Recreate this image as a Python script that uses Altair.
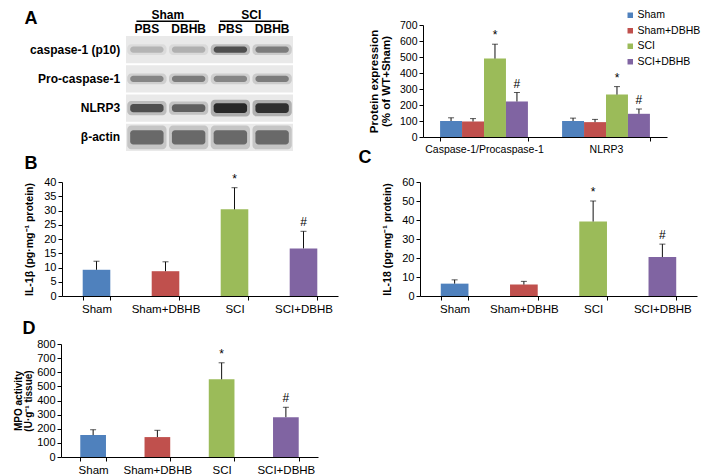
import altair as alt
import pandas as pd

FONT = "Liberation Sans"
W, H = 693, 467  # chart area (page minus 8px top/left margin)

# ---------------- data ----------------
groups = ["Sham", "Sham+DBHB", "SCI", "SCI+DBHB"]
group_colors = ["#4F81BD", "#C0504D", "#9BBB59", "#8064A2"]
sig_marks = ["", "", "*", "#"]

a_categories = ["Caspase-1/Procaspase-1", "NLRP3"]
a_casp_mean = [100, 97, 490, 222]
a_casp_err = [20, 18, 90, 56]
a_nlrp3_mean = [100, 93, 265, 145]
a_nlrp3_err = [18, 17, 50, 30]

b_mean = [9.2, 8.7, 30.4, 16.7]
b_err = [3.0, 3.3, 7.6, 6.0]
c_mean = [6.5, 6.0, 39.2, 20.5]
c_err = [2.0, 1.7, 10.8, 6.8]
d_mean = [155, 141, 550, 282]
d_err = [38, 48, 117, 70]

blot_rows = ["caspase-1 (p10)", "Pro-caspase-1", "NLRP3", "β-actin"]
lane_treatments = ["PBS", "DBHB", "PBS", "DBHB"]
lane_groups = ["Sham", "Sham", "SCI", "SCI"]
band_p10 = [0.22, 0.25, 0.75, 0.5]
band_pro = [0.45, 0.5, 0.45, 0.5]
band_nlrp3 = [0.75, 0.65, 1.0, 0.95]
band_actin = [0.6, 0.6, 0.6, 0.6]

# ---------------- shared styling ----------------
legend = alt.Legend(orient="none", legendX=617, legendY=2, title=None,
                    symbolType="square", symbolSize=30, symbolStrokeWidth=0,
                    labelFont=FONT, labelFontSize=10.5, labelColor="black",
                    labelOffset=2, rowPadding=4.5, padding=0)
color = alt.Color("group:N", sort=groups,
                  scale=alt.Scale(domain=groups, range=group_colors), legend=legend)


def y_axis(x_pos, title, values, label_size=11, title_size=10.5, title_pad=9):
    return alt.Axis(orient="left", offset=-x_pos, title=title, values=values,
                    grid=False, domainColor="black", tickColor="black", tickSize=4,
                    labelColor="black", labelFont=FONT, labelFontSize=label_size,
                    labelPadding=2, titleFont=FONT, titleFontWeight="bold",
                    titleColor="black", titleFontSize=title_size, titlePadding=title_pad,
                    titleLineHeight=title_size + 0.5)


def x_axis(y_pos, label_size=11.5):
    return alt.Axis(orient="bottom", offset=y_pos - H, title=None, labelAngle=0,
                    tickBand="extent", domainColor="black", tickColor="black",
                    tickSize=4, labelColor="black", labelFont=FONT,
                    labelFontSize=label_size, labelPadding=3, grid=False)


def bar_panel(mean, err, x0, x1, y0, y1, y_max, y_step, title, title_pad=9, title_size=10.5):
    df = pd.DataFrame({"group": groups, "mean": mean, "err": err, "sig": sig_marks})
    base = alt.Chart(df).transform_calculate(top="datum.mean + datum.err")
    xs = alt.Scale(domain=groups, range=[x0, x1], paddingInner=0.6, paddingOuter=0.3)
    ys = alt.Scale(domain=[0, y_max], range=[y0, y1], nice=False, zero=True)
    yax = y_axis(x0, title, list(range(0, y_max + 1, y_step)), title_pad=title_pad,
                 title_size=title_size)
    x = alt.X("group:N", sort=groups, scale=xs, axis=x_axis(y0))
    bars = base.mark_bar().encode(x=x, y=alt.Y("mean:Q", scale=ys, axis=yax), color=color)
    err_rule = base.mark_rule(color="#111", strokeWidth=1).encode(
        x=x, y=alt.Y("mean:Q", scale=ys, axis=yax), y2="top:Q")
    cap = base.mark_tick(color="#111", size=6, thickness=1).encode(
        x=x, y=alt.Y("top:Q", scale=ys, axis=yax))
    txt = base.mark_text(font=FONT, fontSize=12, color="black", baseline="alphabetic",
                         dy=-5).encode(x=x, y=alt.Y("top:Q", scale=ys, axis=yax), text="sig:N")
    return alt.layer(bars, err_rule, cap, txt)


# ---------------- panel A bar chart ----------------
a_df = pd.DataFrame({
    "category": [a_categories[0]] * 4 + [a_categories[1]] * 4,
    "group": groups * 2,
    "mean": a_casp_mean + a_nlrp3_mean,
    "err": a_casp_err + a_nlrp3_err,
    "sig": sig_marks * 2,
})
a_base = alt.Chart(a_df).transform_calculate(top="datum.mean + datum.err")
a_xs = alt.Scale(domain=a_categories, range=[415, 659], paddingInner=0.28, paddingOuter=0.14)
a_ys = alt.Scale(domain=[0, 700], range=[129, 17], nice=False)
a_yax = y_axis(415, ["Protein expression", "(% of WT+Sham)"], list(range(0, 701, 100)),
               label_size=10.5, title_size=11.5, title_pad=8)
a_x = alt.X("category:N", sort=a_categories, scale=a_xs, axis=x_axis(129, label_size=10.5))
a_off = alt.XOffset("group:N", sort=groups,
                    scale=alt.Scale(domain=groups, paddingInner=0, paddingOuter=0))
a_bars = a_base.mark_bar().encode(x=a_x, xOffset=a_off,
                                  y=alt.Y("mean:Q", scale=a_ys, axis=a_yax), color=color)
a_err = a_base.mark_rule(color="#111", strokeWidth=1).encode(
    x=a_x, xOffset=a_off, y=alt.Y("mean:Q", scale=a_ys, axis=a_yax), y2="top:Q")
a_cap = a_base.mark_tick(color="#111", size=6, thickness=1).encode(
    x=a_x, xOffset=a_off, y=alt.Y("top:Q", scale=a_ys, axis=a_yax))
a_txt = a_base.mark_text(font=FONT, fontSize=12, color="black", baseline="alphabetic",
                         dy=-5).encode(x=a_x, xOffset=a_off,
                                       y=alt.Y("top:Q", scale=a_ys, axis=a_yax), text="sig:N")
panel_a = alt.layer(a_bars, a_err, a_cap, a_txt)

# ---------------- panel A blot ----------------
bxs = alt.Scale(domain=[-0.5, 3.5], range=[118, 285], nice=False, zero=False)
bys = alt.Scale(domain=[-0.5, 3.5], range=[27, 144], nice=False, zero=False)

row_df = pd.DataFrame({"row": list(range(len(blot_rows))), "name": blot_rows})
band_recs = []
for r, vals in enumerate([band_p10, band_pro, band_nlrp3, band_actin]):
    for l, v in enumerate(vals):
        band_recs.append({"row": r, "lane": l, "intensity": v})
band_df = pd.DataFrame(band_recs)
lane_df = pd.DataFrame({"lane": list(range(4)), "treat": lane_treatments, "grp": lane_groups})


def bx(f):
    return alt.X(f, type="quantitative", scale=bxs, axis=None)


def by(f):
    return alt.Y(f, type="quantitative", scale=bys, axis=None)


blot_bg = alt.Chart(row_df).transform_calculate(
    x1="-0.5", x2="3.5", y1="datum.row - 0.47", y2="datum.row + 0.47"
).mark_rect(color="#e9e9e9").encode(x=bx("x1"), x2="x2:Q", y=by("y1"), y2="y2:Q")

band_base = alt.Chart(band_df).transform_calculate(
    hh="(datum.row == 3 ? 0.24 : (datum.row == 2 ? 0.07 + 0.1 * datum.intensity : 0.11))",
    x1="datum.lane - 0.47", x2="datum.lane + 0.47",
    hx1="datum.lane - 0.4", hx2="datum.lane + 0.4",
    y1="datum.row - datum.hh * 1.7", y2="datum.row + datum.hh * 1.7",
    cy1="datum.row - datum.hh", cy2="datum.row + datum.hh",
    halo="datum.intensity * 0.3", core="datum.intensity * 0.85",
)
band_halo = band_base.mark_rect(color="#222", cornerRadius=4).encode(
    x=bx("x1"), x2="x2:Q", y=by("y1"), y2="y2:Q",
    opacity=alt.Opacity("halo:Q", scale=None, legend=None))
band_core = band_base.mark_rect(color="#111", cornerRadius=3).encode(
    x=bx("hx1"), x2="hx2:Q", y=by("cy1"), y2="cy2:Q",
    opacity=alt.Opacity("core:Q", scale=None, legend=None))

row_labels = alt.Chart(row_df).transform_calculate(lx="-0.64").mark_text(
    font=FONT, fontSize=12, fontWeight="bold", align="right", baseline="middle", color="black"
).encode(x=bx("lx"), y=by("row"), text="name:N")

lane_labels = alt.Chart(lane_df).transform_calculate(ly="-0.70").mark_text(
    font=FONT, fontSize=12, fontWeight="bold", align="center", baseline="middle", color="black"
).encode(x=bx("lane"), y=by("ly"), text="treat:N")

grp_base = alt.Chart(lane_df).transform_aggregate(
    first="min(lane)", last="max(lane)", groupby=["grp"]
).transform_calculate(
    cx="(datum.first + datum.last) / 2", gy="-1.17", uy="-0.97",
    u1="datum.first - 0.25", u2="datum.last + 0.25")
grp_labels = grp_base.mark_text(font=FONT, fontSize=12, fontWeight="bold",
                                align="center", baseline="middle", color="black").encode(
    x=bx("cx"), y=by("gy"), text="grp:N")
grp_lines = grp_base.mark_rule(color="black", strokeWidth=1.5).encode(
    x=bx("u1"), x2="u2:Q", y=by("uy"))

blot = alt.layer(blot_bg, band_halo, band_core, row_labels, lane_labels, grp_labels, grp_lines)

# ---------------- panels B, C, D ----------------
panel_b = bar_panel(b_mean, b_err, 54, 330, 288, 174, 40, 5, "IL-1β (pg·mg⁻¹ protein)")
panel_c = bar_panel(c_mean, c_err, 412, 689, 288, 174, 60, 10, "IL-18 (pg·mg⁻¹ protein)")
panel_d = bar_panel(d_mean, d_err, 53, 310, 449, 336, 800, 100,
                    ["MPO activity", "(U·g⁻¹ tissue)"], title_pad=3, title_size=10)


# ---------------- panel letters ----------------
def letter(t, x, y):
    return alt.Chart(pd.DataFrame({"t": [t]})).mark_text(
        font=FONT, fontSize=18, fontWeight="bold", align="center", baseline="middle",
        color="black").encode(x=alt.value(x), y=alt.value(y), text="t:N")


letters = [letter("A", 23, 11), letter("B", 23, 156), letter("C", 357, 150), letter("D", 21, 321)]

chart = alt.layer(blot, panel_a, panel_b, panel_c, panel_d, *letters).resolve_scale(
    x="independent", y="independent"
).properties(
    width=W, height=H, padding=0, autosize=alt.AutoSizeParams(type="none"),
    background="white"
).configure_view(stroke=None)

chart.save("out.html", embed_options={"renderer": "svg", "actions": False})
